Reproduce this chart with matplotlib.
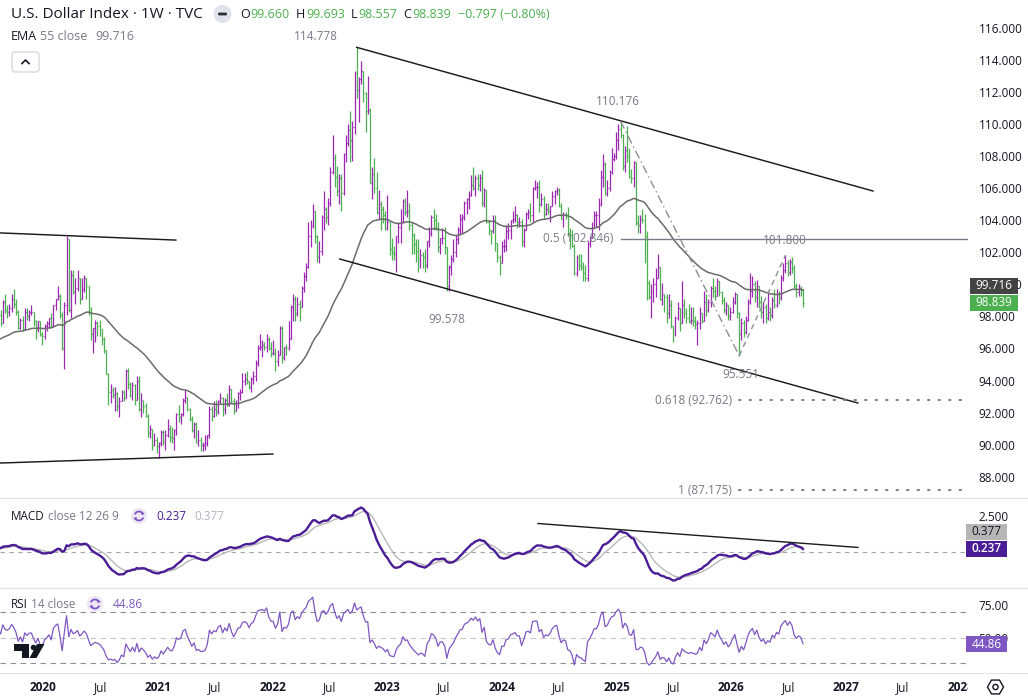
import numpy as np
import pandas as pd
import matplotlib
matplotlib.use("Agg")
import matplotlib.pyplot as plt
import matplotlib.dates as mdates
from matplotlib.patches import Rectangle, FancyBboxPatch, Polygon, Circle, Arc, RegularPolygon
from matplotlib.transforms import blended_transform_factory

W, H = 1028, 699
plt.rcParams["font.family"] = ["Open Sans", "DejaVu Sans"]

# ---------------- data (weekly bars) ----------------
first_monday = "2019-08-12"

# closes before the visible window, only used to warm up EMA / MACD / RSI
warmup_close = [
    94.0, 94.7, 94.4, 94.7, 95.2, 96.1, 96.1, 95.2, 95.1, 95.4, 94.9, 93.9, 95.1,
    95.6, 95.2, 95.7, 96.4, 96.5, 96.9, 96.5, 96.9, 97.2, 96.6, 97.4, 96.9, 96.4,
    96.2, 95.7, 96.4, 95.8, 95.6, 96.6, 96.9, 96.5, 96.5, 97.3, 96.6, 96.6, 97.3,
    97.4, 96.9, 97.4, 98.0, 97.5, 97.3, 98.0, 97.6, 97.8, 96.5, 97.6, 96.2, 96.1,
    97.3, 96.8, 97.2, 98.0, 98.1, 97.5,
]

week_close = [
    # 2019
    98.1, 97.6, 98.9, 98.4, 98.3, 98.5, 99.1, 98.8, 98.3, 97.3, 97.8, 97.2, 98.3,
    98.0, 98.3, 98.3, 97.7, 97.2, 97.7, 96.9,
    # 2020
    96.8, 97.4, 97.6, 97.9, 97.4, 98.7, 99.1, 99.3, 98.1, 96.0, 98.7, 102.8, 98.4,
    100.6, 99.5, 99.8, 100.4, 99.1, 99.7, 100.4, 99.9, 98.4, 96.9, 97.3, 97.6, 97.4,
    97.2, 96.6, 95.9, 94.4, 93.3, 93.4, 93.1, 93.2, 92.4, 92.7, 93.3, 92.9, 94.6,
    93.8, 93.1, 93.7, 92.8, 94.0, 92.2, 92.8, 92.4, 91.8, 90.7, 91.0, 90.0, 90.3,
    # 2021
    89.9, 90.1, 90.8, 90.2, 90.6, 91.0, 90.5, 90.4, 90.9, 91.9, 91.7, 91.9, 92.8,
    93.0, 92.2, 91.6, 90.9, 91.3, 90.2, 90.3, 90.0, 90.0, 90.1, 90.6, 92.2, 91.8,
    92.2, 92.1, 92.7, 92.9, 92.2, 92.8, 92.5, 93.5, 92.7, 92.1, 92.6, 93.2, 93.3,
    94.0, 94.1, 94.0, 93.6, 94.1, 94.3, 95.1, 96.0, 96.1, 96.2, 96.1, 96.6, 96.0, 95.7,
    # 2022
    95.7, 95.2, 95.6, 97.3, 95.5, 96.1, 96.0, 96.6, 98.6, 99.1, 98.2, 98.8,
    98.6, 99.8, 100.5, 101.1, 103.0, 103.7, 104.6, 103.0, 101.7, 102.1, 104.2, 104.7,
    104.2, 105.1, 107.0, 107.9, 106.7, 105.8, 106.6, 105.7, 108.1, 108.8, 109.6,
    109.0, 109.8, 113.2, 112.1, 112.8, 113.3, 111.9, 110.8, 110.9, 106.3, 106.9,
    106.0, 104.5, 105.0, 104.7, 104.3, 103.5,
    # 2023
    103.9, 102.2, 102.0, 101.9, 103.0, 103.6, 103.9, 105.2, 104.5, 104.6, 103.7,
    103.1, 102.5, 102.1, 101.6, 101.8, 101.7, 101.2, 102.7, 103.2, 104.2, 104.0,
    103.5, 102.3, 102.9, 102.9, 102.3, 99.9, 101.1, 101.6, 102.0, 102.8, 103.4,
    104.1, 104.2, 105.1, 105.3, 105.6, 106.2, 106.0, 106.6, 106.2, 106.6, 105.1,
    105.9, 103.9, 103.4, 103.3, 104.0, 102.6, 101.7, 101.3,
    # 2024
    102.4, 102.4, 103.3, 103.4, 104.0, 104.1, 104.3, 103.9, 103.9, 102.7, 103.4,
    104.4, 104.5, 104.3, 106.0, 106.1, 106.1, 105.0, 105.3, 104.4, 104.7, 104.6,
    104.9, 105.5, 105.8, 105.9, 104.9, 104.1, 104.4, 104.3, 103.2, 103.1, 102.4,
    100.7, 101.7, 101.2, 101.1, 100.7, 100.4, 102.5, 102.9, 103.5, 104.3, 104.3,
    105.0, 106.7, 107.5, 105.7, 106.0, 107.0, 107.8, 108.0,
    # 2025
    109.0, 109.7, 109.3, 107.4, 108.4, 108.0, 106.7, 106.6, 107.6, 103.8, 103.7,
    104.1, 104.0, 103.0, 100.1, 99.2, 99.5, 100.0, 100.4, 101.1, 99.1, 99.4,
    99.2, 98.2, 98.7, 97.4, 97.0, 97.9, 98.5, 97.6, 98.7, 98.2, 97.9, 97.7, 97.8,
    97.7, 97.5, 97.6, 98.2, 97.7, 98.9, 98.4, 98.9, 99.8, 99.6, 99.3, 100.2, 99.5,
    99.0, 98.4, 98.7, 98.0,
    # 2026
    98.3, 98.9, 99.4, 98.2, 96.9, 97.6, 97.0, 97.8, 98.9, 99.6, 100.0, 99.2, 99.9,
    98.9, 98.3, 98.6, 97.9, 98.3, 98.1, 99.0, 98.7, 99.4, 99.2, 100.4, 100.9, 101.3,
    100.8, 101.4, 101.0, 99.9, 99.5, 99.8, 99.636, 98.839,
]

week_high = [
    # 2019
    98.4, 98.4, 99.0, 99.4, 98.7, 98.8, 99.4, 99.7, 99.1, 98.4, 97.9, 98.0, 98.5,
    98.5, 98.4, 98.7, 98.3, 97.8, 97.7, 97.7,
    # 2020
    97.0, 97.5, 97.7, 97.9, 98.2, 98.7, 99.1, 99.9, 99.4, 98.3, 98.9, 103.0, 102.8,
    100.9, 100.9, 100.4, 100.9, 100.4, 100.4, 100.6, 100.4, 99.9, 98.6, 97.3, 97.8,
    97.7, 97.8, 97.2, 96.7, 95.9, 94.5, 93.8, 93.6, 93.6, 93.3, 93.0, 93.4, 93.4,
    94.7, 94.8, 93.9, 93.9, 93.8, 94.3, 94.3, 93.2, 92.8, 92.6, 91.9, 91.2, 91.0, 90.7,
    # 2021
    90.5, 90.2, 90.9, 90.9, 90.9, 91.6, 91.2, 91.1, 91.0, 92.0, 92.5, 92.0, 92.9,
    93.4, 93.0, 92.3, 91.8, 91.4, 91.4, 90.9, 90.5, 90.2, 90.6, 90.6, 92.4, 92.4,
    92.7, 92.8, 92.8, 93.2, 93.0, 92.9, 93.2, 93.7, 93.5, 92.9, 92.8, 93.3, 93.5,
    94.5, 94.5, 94.6, 94.0, 94.2, 94.6, 95.3, 96.2, 96.9, 96.5, 96.4, 96.9, 96.7, 96.4,
    # 2022
    96.5, 96.0, 95.9, 97.4, 97.4, 96.1, 96.3, 97.7, 98.7, 99.4, 99.3, 99.2,
    99.0, 99.9, 100.8, 101.3, 103.9, 104.0, 105.0, 104.2, 103.1, 102.7, 104.3, 105.8,
    104.8, 105.4, 107.3, 109.3, 108.1, 107.4, 106.9, 106.9, 108.2, 109.3, 110.0,
    110.8, 110.2, 113.3, 114.778, 112.9, 113.9, 113.2, 112.0, 113.0, 111.0, 107.3,
    107.9, 107.0, 105.9, 105.2, 104.9, 104.6,
    # 2023
    105.6, 103.9, 102.9, 102.4, 103.0, 103.9, 104.7, 105.3, 105.4, 105.9, 105.1,
    103.9, 103.2, 102.8, 102.8, 102.2, 102.0, 102.2, 102.7, 103.6, 104.3, 104.7,
    104.4, 103.9, 102.9, 103.5, 103.6, 102.2, 101.2, 101.8, 102.8, 103.1, 103.6,
    104.4, 104.4, 105.2, 105.4, 105.8, 106.8, 107.3, 106.8, 106.9, 106.9, 107.1,
    106.0, 105.9, 104.0, 103.4, 104.3, 104.3, 102.6, 101.8,
    # 2024
    102.7, 102.8, 103.7, 103.8, 104.0, 104.6, 104.9, 104.4, 104.2, 104.1, 103.5,
    104.5, 104.7, 105.1, 106.1, 106.5, 106.4, 106.5, 105.7, 105.5, 105.1, 105.1,
    104.9, 105.8, 105.9, 106.1, 106.0, 105.1, 104.5, 104.5, 104.8, 103.5, 103.4,
    102.5, 101.8, 101.9, 101.9, 101.4, 101.2, 102.7, 103.0, 103.9, 104.6, 104.6,
    105.4, 107.1, 108.1, 107.6, 106.5, 107.1, 108.5, 108.2,
    # 2025
    109.5, 110.0, 110.176, 109.4, 108.6, 109.9, 108.5, 107.2, 107.7, 107.6, 104.3,
    104.3, 104.7, 104.4, 103.3, 100.3, 100.0, 100.4, 101.0, 101.9, 101.0, 100.1,
    99.4, 99.4, 99.4, 99.0, 97.4, 98.0, 98.9, 98.5, 100.2, 99.1, 98.5, 98.8, 98.6,
    98.6, 98.0, 97.8, 98.6, 98.2, 99.6, 99.4, 99.1, 99.9, 100.4, 99.9, 100.4, 100.2,
    99.6, 99.2, 98.9, 98.7,
    # 2026
    98.6, 99.2, 99.5, 99.4, 98.3, 97.9, 97.8, 98.0, 99.1, 100.7, 100.5, 100.2, 100.3,
    99.9, 99.3, 98.9, 98.8, 99.6, 98.6, 99.2, 99.7, 99.7, 99.6, 100.6, 101.3, 101.8,
    101.5, 101.6, 101.7, 101.2, 100.1, 100.0, 99.9, 99.693,
]

week_low = [
    # 2019
    97.4, 97.4, 97.6, 98.2, 97.9, 98.0, 98.3, 98.5, 98.1, 97.2, 97.2, 97.1, 97.2,
    97.8, 97.7, 98.1, 97.4, 96.6, 97.0, 96.8,
    # 2020
    96.2, 96.6, 97.1, 97.3, 97.3, 97.4, 98.4, 99.0, 97.9, 95.9, 94.7, 98.1, 98.3,
    97.9, 99.4, 98.8, 99.6, 98.8, 99.1, 99.5, 99.1, 98.1, 96.5, 95.7, 96.4, 96.8,
    96.8, 96.2, 95.7, 94.4, 92.5, 92.6, 92.9, 92.1, 92.1, 91.7, 92.7, 92.7, 92.9,
    93.5, 93.0, 92.8, 92.5, 92.8, 92.1, 91.7, 92.0, 91.7, 90.5, 90.4, 89.7, 89.9,
    # 2021
    89.5, 89.2, 89.9, 90.0, 89.7, 90.5, 90.2, 90.1, 89.7, 90.6, 91.4, 91.3, 91.8,
    92.6, 92.1, 91.5, 90.8, 90.4, 90.1, 89.9, 89.6, 89.6, 89.7, 89.9, 90.4, 91.5,
    91.7, 91.8, 91.9, 92.6, 91.8, 91.9, 92.4, 92.4, 92.6, 91.9, 92.1, 92.3, 92.8,
    93.2, 93.7, 93.8, 93.5, 93.3, 93.8, 94.0, 94.9, 95.9, 95.5, 95.9, 95.8, 95.9, 95.5,
    # 2022
    95.6, 94.6, 94.9, 95.6, 95.1, 95.3, 95.6, 95.9, 96.6, 97.7, 97.7, 98.0,
    97.7, 98.6, 99.5, 100.2, 101.0, 102.3, 103.5, 102.6, 101.4, 101.3, 101.8, 103.4,
    103.8, 103.7, 104.9, 106.9, 106.1, 105.5, 105.0, 104.6, 105.6, 107.6, 108.6,
    107.6, 107.7, 109.4, 111.6, 110.1, 112.5, 111.4, 109.5, 110.6, 106.3, 105.3,
    105.7, 104.4, 104.1, 103.4, 103.8, 103.4,
    # 2023
    103.4, 101.8, 101.5, 101.5, 100.8, 102.6, 102.6, 103.8, 104.3, 104.2, 103.4,
    101.9, 101.9, 101.4, 100.8, 101.0, 101.0, 100.8, 101.0, 102.3, 103.0, 103.4,
    103.4, 102.0, 101.9, 102.5, 101.9, 99.578, 99.6, 100.6, 101.4, 101.7, 102.5,
    103.1, 103.2, 104.0, 104.4, 104.7, 105.5, 105.9, 105.5, 105.9, 105.8, 104.9,
    104.8, 103.8, 103.1, 102.5, 103.2, 102.1, 101.4, 100.6,
    # 2024
    101.3, 102.0, 102.1, 102.8, 102.8, 103.8, 103.9, 103.5, 103.6, 102.4, 102.3,
    103.4, 104.1, 103.9, 103.9, 105.9, 105.4, 104.5, 104.9, 104.1, 104.3, 104.4,
    103.9, 104.9, 105.0, 105.6, 104.8, 104.1, 103.6, 104.1, 103.0, 102.2, 102.3,
    100.6, 100.5, 100.9, 100.9, 100.2, 100.2, 100.2, 102.3, 102.9, 103.5, 103.6,
    103.4, 104.9, 106.1, 105.6, 105.5, 105.8, 106.9, 107.7,
    # 2025
    107.8, 108.4, 109.1, 107.1, 107.0, 107.6, 106.6, 106.3, 106.1, 103.7, 103.2,
    103.2, 103.8, 101.3, 99.0, 99.1, 97.9, 98.9, 99.2, 100.4, 99.0, 98.7,
    98.3, 97.6, 97.9, 97.3, 96.4, 96.8, 97.8, 97.1, 97.6, 97.9, 97.6, 97.6, 97.5,
    97.4, 97.2, 96.2, 97.2, 97.6, 97.9, 98.0, 98.3, 98.6, 99.2, 99.0, 99.3, 99.3,
    98.8, 98.2, 98.1, 97.8,
    # 2026
    97.8, 98.2, 98.8, 97.9, 95.551, 96.5, 96.7, 96.9, 97.7, 98.8, 99.2, 98.9, 98.6,
    98.5, 97.9, 97.6, 97.6, 97.8, 97.7, 97.9, 98.5, 98.6, 98.8, 99.0, 100.2, 100.7,
    100.5, 100.6, 100.7, 99.7, 99.2, 99.3, 99.3, 98.557,
]

header_ohlc = [("O", "99.660"), ("H", "99.693"), ("L", "98.557"), ("C", "98.839")]
header_change = "\u22120.797 (\u22120.80%)"
ema_last = 99.716
macd_last, signal_last = 0.237, 0.377
rsi_last = 44.86

price_ticks = list(range(88, 117, 2))
macd_ticks = [2.5]
rsi_ticks = [75, 50]
rsi_bands = [70, 50, 30]

# drawings on the chart (date, value)
channel_upper = [("2022-09-26", 114.778), ("2027-03-28", 105.82)]
channel_lower = [("2022-08-03", 101.58), ("2027-02-08", 92.60)]
range_upper = [("2019-07-20", 103.23), ("2021-02-27", 102.76)]
range_lower = [("2019-07-20", 88.84), ("2022-01-02", 89.42)]
zigzag = [("2025-01-13", 110.176), ("2026-01-26", 95.551), ("2026-06-22", 101.800)]
fib_levels = [("0.5", 102.846, "2025-01-13", False),
              ("0.618", 92.762, "2026-01-26", True),
              ("1", 87.175, "2026-01-26", True)]
swing_labels = [("114.778", "2022-09-26", 114.778, (-41, 11)),
                ("110.176", "2025-01-13", 110.176, (-3, 20)),
                ("99.578", "2023-07-10", 99.578, (0, -28)),
                ("95.551", "2026-01-26", 95.551, (2, -19)),
                ("101.800", "2026-06-22", 101.800, (-1, 15))]
macd_trend = [("2024-04-25", 2.0), ("2027-02-08", 0.33)]

date_ticks = [f"{y}-{m}-01" for y in range(2020, 2029) for m in ("01", "07")][:-1]

# ---------------- colours ----------------
UP = "#9c27b0"
DOWN = "#4caf50"
INK = "#131722"
GREY = "#787b86"
MACD_C = "#4a1d96"
SIG_C = "#b8b8b8"
RSI_C = "#7e57c2"

# ---------------- series ----------------
all_close = pd.Series(warmup_close + week_close, dtype=float)
n_warm = len(warmup_close)
dates = pd.date_range(first_monday, periods=len(week_close), freq="7D")
xn = mdates.date2num(dates)

close = np.array(week_close)
opens = np.r_[warmup_close[-1], close[:-1]]
high = np.maximum.reduce([np.array(week_high), opens, close])
low = np.minimum.reduce([np.array(week_low), opens, close])

ema55 = all_close.ewm(span=55, adjust=False).mean().values[n_warm:]
macd_full = all_close.ewm(span=12, adjust=False).mean() - all_close.ewm(span=26, adjust=False).mean()
signal_full = macd_full.ewm(span=9, adjust=False).mean()
macd = macd_full.values[n_warm:]
signal = signal_full.values[n_warm:]
delta = all_close.diff().fillna(0)
gain = delta.clip(lower=0).ewm(alpha=1 / 14, adjust=False).mean()
loss = (-delta.clip(upper=0)).ewm(alpha=1 / 14, adjust=False).mean()
rsi = (100 - 100 / (1 + gain / loss)).values[n_warm:]

# ---------------- figure ----------------
fig = plt.figure(figsize=(W / 100, H / 100), dpi=100)
fig.patch.set_facecolor("white")


def px_rect(x0, y0, x1, y1):
    return [x0 / W, 1 - y1 / H, (x1 - x0) / W, (y1 - y0) / H]


ax = fig.add_axes(px_rect(0, 0, 968, 497))
ax_m = fig.add_axes(px_rect(0, 498, 968, 587), sharex=ax)
ax_r = fig.add_axes(px_rect(0, 588, 968, 672), sharex=ax)
ax_d = fig.add_axes(px_rect(0, 673, 968, 699), sharex=ax)
ov = fig.add_axes([0, 0, 1, 1], zorder=10)
ov.set_xlim(0, W)
ov.set_ylim(H, 0)
ov.axis("off")
ov.patch.set_alpha(0)

jan2020 = mdates.date2num(pd.Timestamp("2020-01-01"))
px_day = 114.7 / 365.25
ax.set_xlim(jan2020 - 43 / px_day, jan2020 + 925 / px_day)
ax.set_ylim(86.74, 117.73)
ax_m.set_ylim(-2.43, 3.78)
ax_r.set_ylim(23.3, 88.4)

for a in (ax, ax_m, ax_r, ax_d):
    for s in a.spines.values():
        s.set_visible(False)
    a.set_facecolor("none")
    a.tick_params(bottom=False, labelbottom=False, left=False, labelleft=False)

for a, ticks, fmt in ((ax, price_ticks, "{:.3f}"), (ax_m, macd_ticks, "{:.3f}"), (ax_r, rsi_ticks, "{:.2f}")):
    a.set_yticks(ticks)
    a.set_yticklabels([fmt.format(t) for t in ticks])
    a.tick_params(axis="y", left=False, labelleft=False, right=True, labelright=True,
                  length=0, pad=7.5, labelsize=8.5, labelcolor=INK)
ax_d.set_yticks([])


def d(s):
    return mdates.date2num(pd.Timestamp(s))


# ---- price panel ----
cols = np.where(close >= opens, UP, DOWN)
ax.vlines(xn, low, high, colors=cols, lw=0.9, zorder=3)
ax.hlines(opens, xn - 3, xn, colors=cols, lw=0.9, zorder=3)
ax.hlines(close, xn, xn + 3, colors=cols, lw=0.9, zorder=3)
ax.plot(xn, ema55, color="#6b6b6b", lw=1.1, zorder=4)

for line in (channel_upper, channel_lower, range_upper, range_lower):
    ax.plot([d(p[0]) for p in line], [p[1] for p in line], color="#1b1b1b", lw=1.05, zorder=5)

zx = [d(p[0]) for p in zigzag]
zy = [p[1] for p in zigzag]
ax.plot(zx[:2], zy[:2], color="#8d8f96", lw=1.0, ls=(0, (6, 2.5, 1, 2.5)), zorder=5)
ax.plot(zx[1:], zy[1:], color="#8d8f96", lw=1.0, ls=(0, (4, 3)), zorder=5)

right_edge = ax.get_xlim()[1]
for name, lvl, start, dotted in fib_levels:
    if dotted:
        ax.plot([d(start), right_edge - 1], [lvl, lvl], color=GREY, lw=1.4,
                ls=(0, (0.8, 4.6)), dash_capstyle="round", zorder=5)
    else:
        ax.plot([d(start), right_edge], [lvl, lvl], color=GREY, lw=1.0, zorder=5)
    ax.annotate(f"{name} ({lvl:.3f})", xy=(d(start), lvl), xytext=(-7, 0),
                textcoords="offset pixels", ha="right", va="center",
                fontsize=8.5, color=GREY, zorder=6)

for txt, ds, val, off in swing_labels:
    ax.annotate(txt, xy=(d(ds), val), xytext=off, textcoords="offset pixels",
                ha="center", va="center", fontsize=8.5, color=GREY, zorder=6)

# ---- MACD panel ----
ax_m.axhline(0, color="#a3a6af", lw=0.8, ls=(0, (4, 4)))
ax_m.plot(xn, signal, color=SIG_C, lw=1.0, zorder=3)
ax_m.plot(xn, macd, color=MACD_C, lw=1.7, zorder=4)
ax_m.plot([d(p[0]) for p in macd_trend], [p[1] for p in macd_trend], color="#1b1b1b", lw=1.0, zorder=5)

# ---- RSI panel ----
for b in rsi_bands:
    ax_r.axhline(b, color="#8d8f96" if b != 50 else "#c4c6cc", lw=0.8, ls=(0, (5, 4)))
ax_r.plot(xn, rsi, color=RSI_C, lw=0.9, zorder=3)

# ---- date axis ----
bt = blended_transform_factory(ax_d.transData, ax_d.transAxes)
for ds in date_ticks:
    ts = pd.Timestamp(ds)
    is_year = ts.month == 1
    ax_d.text(d(ds), 0.45, str(ts.year) if is_year else "Jul", transform=bt,
              ha="center", va="center", fontsize=8.5, color=INK,
              fontweight="bold" if is_year else "normal", clip_on=True)


# ---- value tags on the scales ----
def y_px(a, v):
    return H - a.transData.transform((0, v))[1]


def tag(a, v, text, fc, tc, x0, x1, dy=0, h=16, bold=False):
    y = y_px(a, v) + dy
    ov.add_patch(Rectangle((x0, y - h / 2), x1 - x0, h, fc=fc, ec="none"))
    ov.text((x0 + x1) / 2, y, text, color=tc, ha="center", va="center", fontsize=8.5,
            fontweight="semibold" if bold else "normal")


tag(ax, float(header_ohlc[3][1]), header_ohlc[3][1], DOWN, "white", 970, 1018)
tag(ax, float(header_ohlc[3][1]), f"{ema_last:.3f}", "#434343", "white", 970, 1018, dy=-17)
tag(ax_m, macd_last, f"{macd_last:.3f}", MACD_C, "white", 966, 1007, bold=True)
tag(ax_m, macd_last, f"{signal_last:.3f}", "#b6b6b6", INK, 966, 1007, dy=-17)
tag(ax_r, rsi_last, f"{rsi_last:.2f}", RSI_C, "white", 966, 1007)

# ---- separators ----
for yy in (497.5, 587.5, 672.5):
    ov.plot([0, W], [yy, yy], color="#e0e3eb", lw=0.8)

# ---- header ----
renderer = fig.canvas.get_renderer()


def put(x, y, s, color, size, weight="normal"):
    t = ov.text(x, y, s, color=color, fontsize=size, ha="left", va="center", fontweight=weight)
    return x + t.get_window_extent(renderer).width


put(11, 14, "U.S. Dollar Index \u00b7 1W \u00b7 TVC", INK, 11)
ov.add_patch(Circle((222.5, 14), 9, fc="#e0e3eb", ec="none"))
ov.add_patch(FancyBboxPatch((218, 12.6), 9, 2.8, boxstyle="round,pad=0,rounding_size=1.2", fc="#2a2e39", ec="none"))
x = 240
for letter, val in header_ohlc:
    x = put(x, 14, letter, INK, 9) + 1
    x = put(x, 14, val, DOWN, 9) + 6
put(x + 1, 14, header_change, DOWN, 9)

x = put(11, 37, "EMA", INK, 9)
x = put(x + 3, 37, "55 close", GREY, 9)
put(x + 8, 37, f"{ema_last:.3f}", GREY, 9)

ov.add_patch(FancyBboxPatch((12, 52), 27, 20, boxstyle="round,pad=0,rounding_size=3", fc="white", ec="#d1d4dc", lw=0.9))
ov.plot([22, 25.5, 29], [63.5, 60, 63.5], color=INK, lw=1.2)

# ---- indicator legends ----
x = put(11, 516, "MACD", INK, 8.5)
put(x + 3, 516, "close 12 26 9", GREY, 8.5)
put(156, 516, f"{macd_last:.3f}", MACD_C, 8.5)
put(194, 516, f"{signal_last:.3f}", "#b2b5be", 8.5)

x = put(11, 604, "RSI", INK, 8.5)
put(x + 3, 604, "14 close", GREY, 8.5)
put(112.5, 604, f"{rsi_last:.2f}", RSI_C, 8.5)

for cx, cy in ((139, 516), (95, 604)):
    ov.add_patch(Circle((cx, cy), 8, fc="#ede7f6", ec="none"))
    ov.add_patch(Arc((cx, cy), 9, 9, theta1=200, theta2=340, color=RSI_C, lw=1.3))
    ov.add_patch(Arc((cx, cy), 9, 9, theta1=20, theta2=160, color=RSI_C, lw=1.3))
    ov.add_patch(Polygon([(cx + 2.5, cy - 4.6), (cx + 5.8, cy - 2.2), (cx + 2.2, cy - 1.2)], fc=RSI_C, ec="none"))
    ov.add_patch(Polygon([(cx - 2.5, cy + 4.6), (cx - 5.8, cy + 2.2), (cx - 2.2, cy + 1.2)], fc=RSI_C, ec="none"))

# ---- TradingView logo and settings gear ----
ov.add_patch(Polygon([(14, 644), (29, 644), (29, 658), (22, 658), (22, 650.5), (14, 650.5)], fc="#131722", ec="none"))
ov.add_patch(Circle((33.5, 647.5), 2.8, fc="#131722", ec="none"))
ov.add_patch(Polygon([(37, 644), (44.5, 644), (36.5, 658), (29.5, 658)], fc="#131722", ec="none"))
ov.add_patch(RegularPolygon((995.5, 687), 6, radius=8, orientation=np.pi / 6, fill=False, ec=INK, lw=1.0))
ov.add_patch(Circle((995.5, 687), 2.6, fill=False, ec=INK, lw=1.0))

fig.savefig("out.png", dpi=100, facecolor="white")
